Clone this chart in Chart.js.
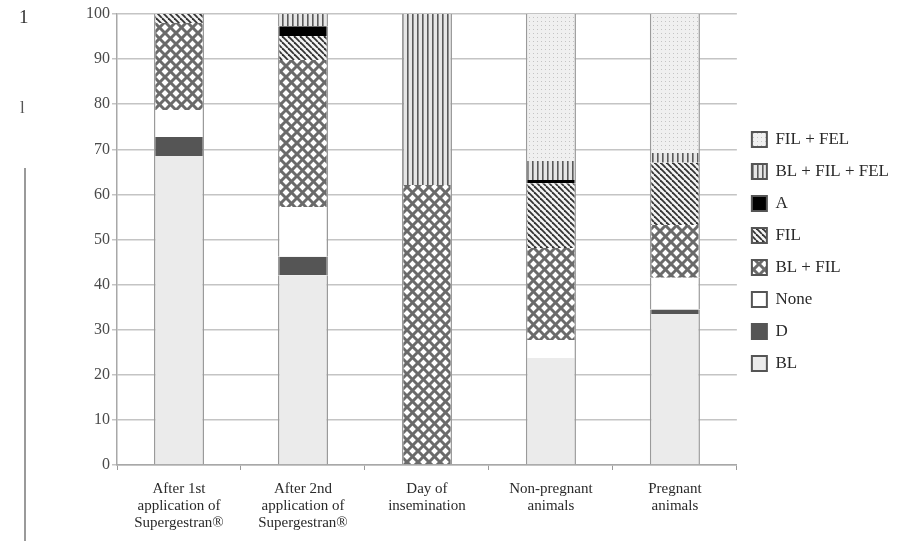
<!DOCTYPE html>
<html>
<head>
<meta charset="utf-8">
<script src="https://cdn.jsdelivr.net/npm/chart.js@4.4.1/dist/chart.umd.min.js"></script>
<style>
  html, body { margin: 0; padding: 0; background: #ffffff; }
  #wrap { position: relative; width: 920px; height: 541px; }
  #c { position: absolute; left: 0; top: 0; }
  .art { position: absolute; font-family: "Liberation Serif", serif; color: #333; }
</style>
</head>
<body>
<div id="wrap">
  <canvas id="c" width="920" height="541"></canvas>
  <span class="art" style="left:19px; top:6px; font-size:19px;">1</span>
  <span class="art" style="left:20px; top:98px; font-size:17px; color:#555;">l</span>
  <div class="art" style="left:24px; top:168px; width:2px; height:373px; background:#9a9a9a;"></div>
</div>
<script>
// ---- Data ----
const categories = [
  ["After 1st", "application of", "Supergestran®"],
  ["After 2nd", "application of", "Supergestran®"],
  ["Day of", "insemination"],
  ["Non-pregnant", "animals"],
  ["Pregnant", "animals"]
];
const seriesNames = ["BL", "D", "None", "BL + FIL", "FIL", "A", "BL + FIL + FEL", "FIL + FEL"];
const BL        = [68.5, 42.1, 0,    23.7, 33.5];
const D         = [4.2,  4.1,  0,    0,    1.0];
const None      = [6.0,  11.0, 0,    4.0,  7.0];
const BL_FIL    = [19.3, 32.6, 62.1, 20.4, 11.7];
const FIL       = [2.0,  5.3,  0,    14.4, 13.8];
const A         = [0,    2.2,  0,    0.7,  0];
const BL_FIL_FEL= [0,    2.7,  37.9, 4.2,  2.2];
const FIL_FEL   = [0,    0,    0,    32.6, 30.8];
const yTicks = [0, 10, 20, 30, 40, 50, 60, 70, 80, 90, 100];

// ---- Patterns ----
function tile(w, h, draw) {
  const cv = document.createElement('canvas');
  cv.width = w; cv.height = h;
  const g = cv.getContext('2d');
  draw(g, w, h);
  return g.createPattern(cv, 'repeat');
}
const patCross = tile(11, 11, (g, w, h) => {
  g.fillStyle = '#ffffff'; g.fillRect(0, 0, w, h);
  g.strokeStyle = '#6a6a6a'; g.lineWidth = 3;
  for (let k = -1; k <= 1; k++) {
    g.beginPath(); g.moveTo(k * w, 0); g.lineTo(k * w + w, h); g.stroke();
    g.beginPath(); g.moveTo(k * w + w, 0); g.lineTo(k * w, h); g.stroke();
  }
});
const patDiag = tile(6, 6, (g, w, h) => {
  g.fillStyle = '#f4f4f4'; g.fillRect(0, 0, w, h);
  g.strokeStyle = '#333333'; g.lineWidth = 1.8;
  for (let k = -1; k <= 1; k++) {
    g.beginPath(); g.moveTo(k * w, 0); g.lineTo(k * w + w, h); g.stroke();
  }
});
const patVert = tile(5, 5, (g, w, h) => {
  g.fillStyle = '#e6e6e6'; g.fillRect(0, 0, w, h);
  g.fillStyle = '#5a5a5a'; g.fillRect(2, 0, 1.6, h);
});
const patDots = tile(4, 4, (g, w, h) => {
  g.fillStyle = '#f0f0f0'; g.fillRect(0, 0, w, h);
  g.fillStyle = '#c4c4c4'; g.fillRect(1, 1, 1, 1);
});

const fills = ['#ebebeb', '#555555', '#ffffff', patCross, patDiag, '#000000', patVert, patDots];
const seriesData = [BL, D, None, BL_FIL, FIL, A, BL_FIL_FEL, FIL_FEL];

const datasets = seriesNames.map((name, i) => ({
  label: name,
  data: seriesData[i],
  backgroundColor: fills[i],
  borderColor: '#9a9a9a',
  borderWidth: { left: 1.5, right: 1.5, top: 0, bottom: 0 },
  borderSkipped: false,
  barPercentage: 0.404,
  categoryPercentage: 1.0
}));

const serif = "'Liberation Serif', 'Times New Roman', serif";

// Shift the legend block upward (reference legend sits above the vertical centre)
const legendShift = {
  id: 'legendShift',
  afterLayout(chart) {
    if (chart.legend) { chart.legend.bottom -= 52; }
  }
};

new Chart(document.getElementById('c'), {
  type: 'bar',
  data: { labels: categories, datasets },
  plugins: [legendShift],
  options: {
    responsive: false,
    animation: false,
    devicePixelRatio: 1,
    layout: { padding: { top: 14, right: 21, bottom: 0, left: 0 } },
    plugins: {
      tooltip: { enabled: false },
      legend: {
        position: 'right',
        align: 'center',
        reverse: true,
        labels: {
          font: { family: serif, size: 17 },
          color: '#2a2a2a',
          boxWidth: 15,
          boxHeight: 15,
          padding: 15,
          generateLabels(chart) {
            const items = Chart.defaults.plugins.legend.labels.generateLabels(chart);
            items.forEach(it => { it.lineWidth = 2; it.strokeStyle = '#555'; });
            return items;
          }
        }
      }
    },
    scales: {
      x: {
        stacked: true,
        grid: { display: true, drawOnChartArea: false, offset: true, color: '#9a9a9a', tickLength: 5, lineWidth: 1 },
        border: { color: '#a8a8a8', width: 1.5 },
        ticks: { font: { family: serif, size: 15, lineHeight: 1.13 }, color: '#2a2a2a', maxRotation: 0, autoSkip: false, padding: 11 },
        afterFit(s) { s.height = 76; }
      },
      y: {
        stacked: true,
        min: 0, max: 100,
        afterBuildTicks(s) { s.ticks = yTicks.map(v => ({ value: v })); },
        grid: { color: '#c4c4c4', lineWidth: 1.5, tickLength: 5 },
        border: { color: '#a8a8a8', width: 1.5 },
        ticks: { font: { family: serif, size: 16 }, color: '#4a4a4a', padding: 2 },
        afterFit(s) { s.width = 117; }
      }
    }
  }
});
</script>
</body>
</html>
